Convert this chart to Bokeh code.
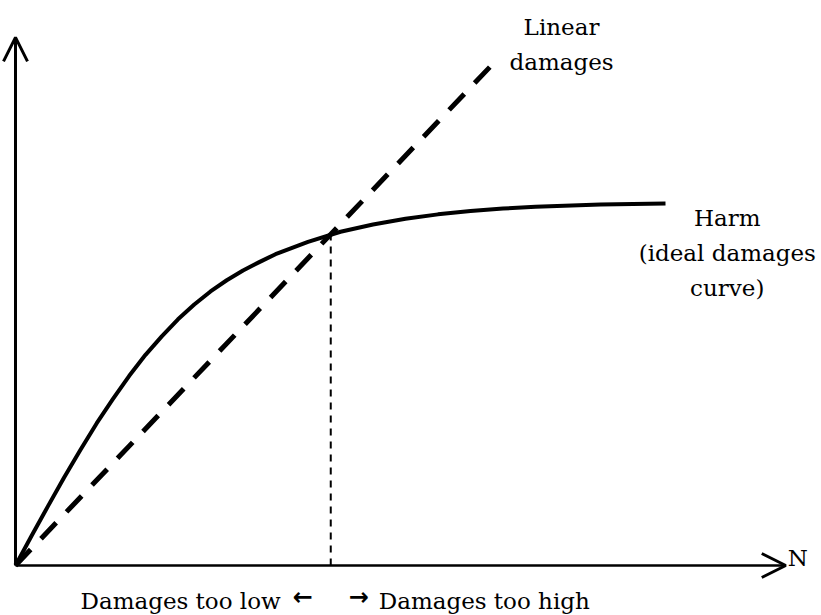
import numpy as np
from bokeh.plotting import figure
from bokeh.models import Range1d, Arrow, OpenHead, Label
from bokeh.embed import file_html
from bokeh.resources import INLINE

# ---- data ----
harm_n = [0, 0.25, 0.5, 0.75, 1.0, 1.25, 1.5, 1.75, 2.0, 2.25, 2.5, 2.75, 3.0,
          3.25, 3.5, 3.75, 4.0, 4.5, 5.0, 5.5, 6.0, 6.5, 7.0, 7.5, 8.0, 9.0, 10.0]
harm_d = [0, 0.83, 1.64, 2.44, 3.2, 3.93, 4.6, 5.24, 5.82, 6.33, 6.8, 7.21, 7.57,
          7.88, 8.15, 8.38, 8.6, 8.94, 9.22, 9.42, 9.58, 9.7, 9.79, 9.86, 9.91, 9.97, 10.0]
linear_n = [0, 7.42]
linear_d = [0, 14.0]
cross_n = 4.85
labels_harm = ["Harm", "(ideal damages", "curve)"]
labels_linear = ["Linear", "damages"]
label_low = "Damages too low"
label_high = "Damages too high"
arrow_low = "\u2190"
arrow_high = "\u2192"
axis_label_x = "N"

# ---- layout ----
W, H = 821, 615
px_x, px_y = 65.0, 36.2          # pixels per data unit
ox, oy = 15, 50                   # origin offset in canvas px (left, bottom)

p = figure(width=W, height=H, output_backend="svg", toolbar_location=None,
           x_range=Range1d(-ox / px_x, (W - ox) / px_x),
           y_range=Range1d(-oy / px_y, (H - oy) / px_y),
           min_border=0, min_border_left=0, min_border_right=0,
           min_border_top=0, min_border_bottom=0)
p.axis.visible = False
p.grid.visible = False
p.outline_line_color = None
p.background_fill_color = "white"

FONT = "DejaVu Serif"
FS = "23px"

# axes with open arrowheads
p.add_layout(Arrow(x_start=0, y_start=0, x_end=0, y_end=14.59,
                   line_width=3, line_color="black",
                   end=OpenHead(size=24, line_width=3, line_color="black")))
p.add_layout(Arrow(x_start=0, y_start=0, x_end=11.85, y_end=0,
                   line_width=2.5, line_color="black",
                   end=OpenHead(size=24, line_width=3, line_color="black")))

# harm curve
p.line(harm_n, harm_d, line_width=4, line_color="black", line_join="round")
# linear damages
p.line(linear_n, linear_d, line_width=5, line_color="black",
       line_dash="22 15", line_cap="butt")
# vertical dotted line at intersection
cross_d = float(np.interp(cross_n, harm_n, harm_d))
p.line([cross_n, cross_n], [0, cross_d], line_width=2, line_color="black",
       line_dash="7 6")

# labels
def lab(x, y, text, align="center", x_off=0, y_off=0, font=FONT, size=FS,
        style="normal", baseline="alphabetic"):
    p.add_layout(Label(x=x, y=y, text=text, text_font=font, text_font_size=size,
                       text_align=align, text_baseline=baseline,
                       text_font_style=style,
                       text_color="black", x_offset=x_off, y_offset=y_off))

for i, t in enumerate(labels_linear):
    lab(8.4, 13.92, t, y_off=35 * (len(labels_linear) - 1 - i))
for i, t in enumerate(labels_harm):
    lab(10.95, 9.6, t, y_off=-35 * i)
lab(11.88, 0.2, axis_label_x, align="left")
lab(cross_n, -0.99, label_low, align="right", x_off=-50)
lab(cross_n, -0.99, label_high, align="left", x_off=48)
lab(cross_n, -0.99, arrow_low, x_off=-28, y_off=4, font="DejaVu Sans",
    size="24px", style="bold", baseline="middle")
lab(cross_n, -0.99, arrow_high, x_off=28, y_off=4, font="DejaVu Sans",
    size="24px", style="bold", baseline="middle")

open("out.html", "w").write(file_html(p, INLINE))
